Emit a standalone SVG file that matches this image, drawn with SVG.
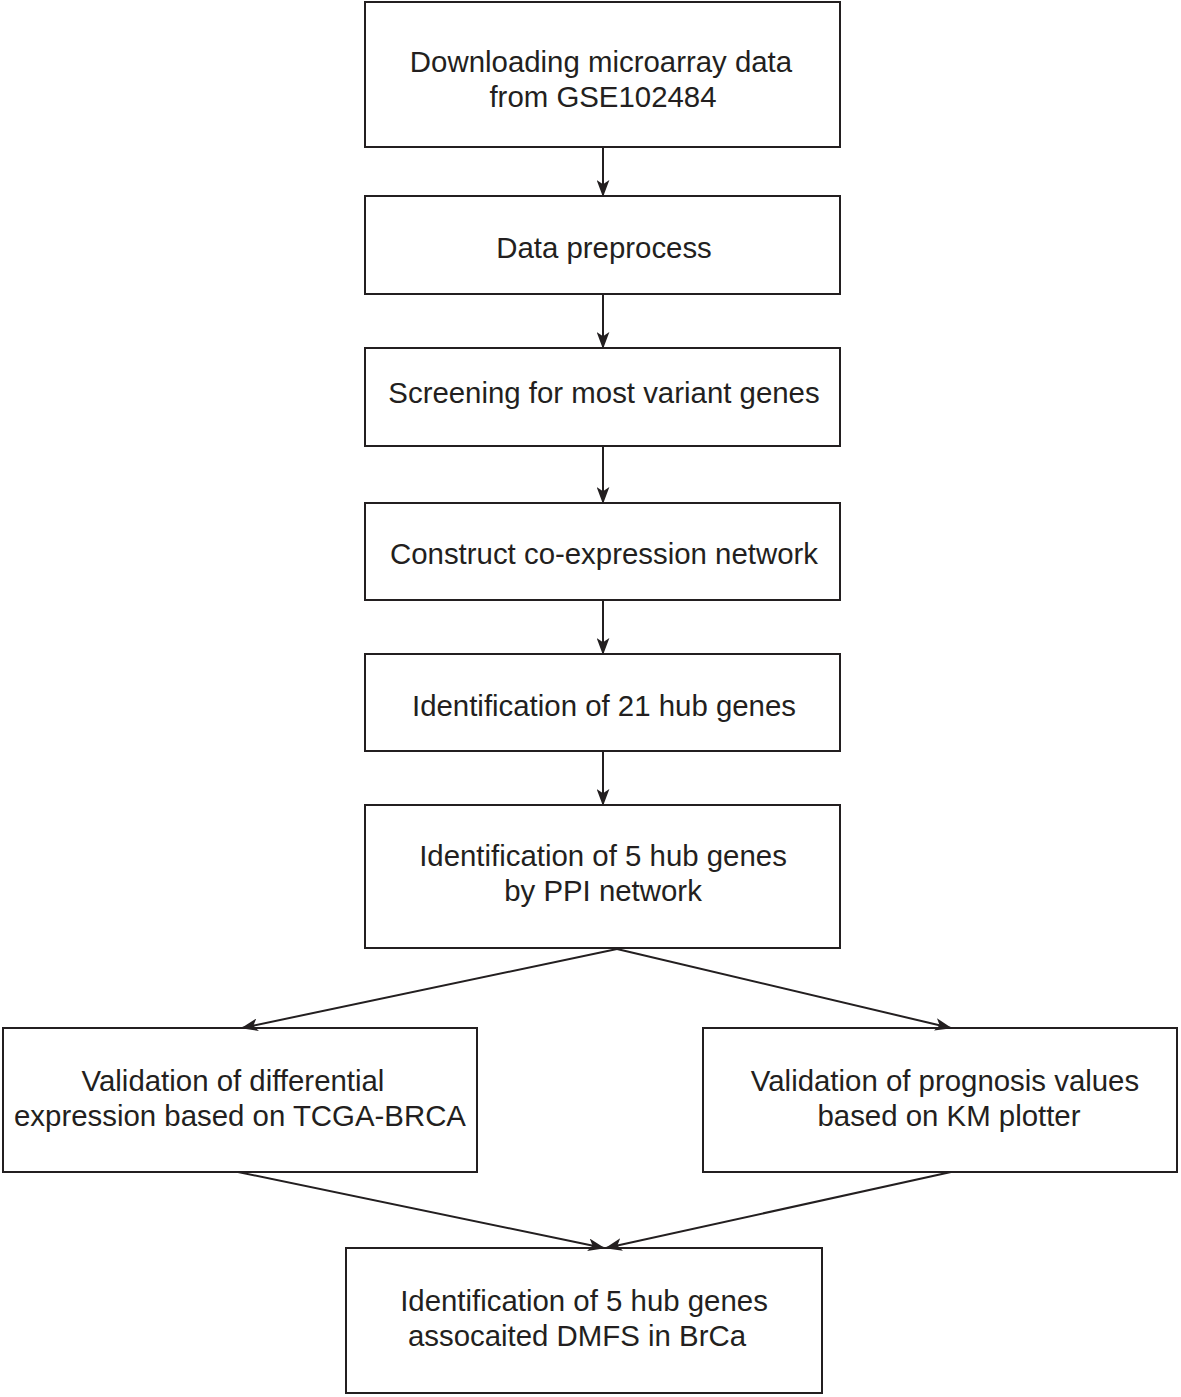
<svg xmlns="http://www.w3.org/2000/svg" width="1181" height="1397" viewBox="0 0 1181 1397">
<style>
.box{fill:#fff;stroke:#231f20;stroke-width:2}
.t{font-family:"Liberation Sans",Arial,sans-serif;font-size:29.4px;fill:#231f20;text-anchor:middle}
.c{fill:none;stroke:#231f20;stroke-width:2;marker-end:url(#ah)}
</style>
<defs>
<marker id="ah" viewBox="0 0 16 12" refX="15" refY="6" markerWidth="17" markerHeight="13" markerUnits="userSpaceOnUse" orient="auto">
<path d="M0,0 L16,6 L0,12 L4,6 Z" fill="#231f20"/>
</marker>
</defs>
<rect width="1181" height="1397" fill="#fff"/>
<g id="n1"><rect class="box" x="365" y="2" width="475" height="145"/><text class="t" x="601" y="72">Downloading microarray data</text><text class="t" x="603" y="107">from GSE102484</text></g>
<g id="n2"><rect class="box" x="365" y="196" width="475" height="98"/><text class="t" x="604" y="258">Data preprocess</text></g>
<g id="n3"><rect class="box" x="365" y="348" width="475" height="98"/><text class="t" x="604" y="403">Screening for most variant genes</text></g>
<g id="n4"><rect class="box" x="365" y="503" width="475" height="97"/><text class="t" x="604" y="564">Construct co-expression network</text></g>
<g id="n5"><rect class="box" x="365" y="654" width="475" height="97"/><text class="t" x="604" y="716">Identification of 21 hub genes</text></g>
<g id="n6"><rect class="box" x="365" y="805" width="475" height="143"/><text class="t" x="603" y="866">Identification of 5 hub genes</text><text class="t" x="603" y="901">by PPI network</text></g>
<g id="n7"><rect class="box" x="3" y="1028" width="474" height="144"/><text class="t" x="233" y="1091">Validation of differential</text><text class="t" x="240" y="1126">expression based on TCGA-BRCA</text></g>
<g id="n8"><rect class="box" x="703" y="1028" width="474" height="144"/><text class="t" x="945" y="1091">Validation of prognosis values</text><text class="t" x="949" y="1126">based on KM plotter</text></g>
<g id="n9"><rect class="box" x="346" y="1248" width="476" height="145"/><text class="t" x="584" y="1311">Identification of 5 hub genes</text><text class="t" x="577" y="1346">assocaited DMFS in BrCa</text></g>
<g id="connectors">
<line class="c" x1="603" y1="147" x2="603" y2="196"/>
<line class="c" x1="603" y1="294" x2="603" y2="348"/>
<line class="c" x1="603" y1="446" x2="603" y2="503"/>
<line class="c" x1="603" y1="600" x2="603" y2="654"/>
<line class="c" x1="603" y1="751" x2="603" y2="805"/>
<line class="c" x1="617" y1="949" x2="242" y2="1028"/>
<line class="c" x1="617" y1="949" x2="951" y2="1028"/>
<line class="c" x1="238" y1="1172" x2="604" y2="1248"/>
<line class="c" x1="951" y1="1172" x2="606" y2="1248"/>
</g>
</svg>
